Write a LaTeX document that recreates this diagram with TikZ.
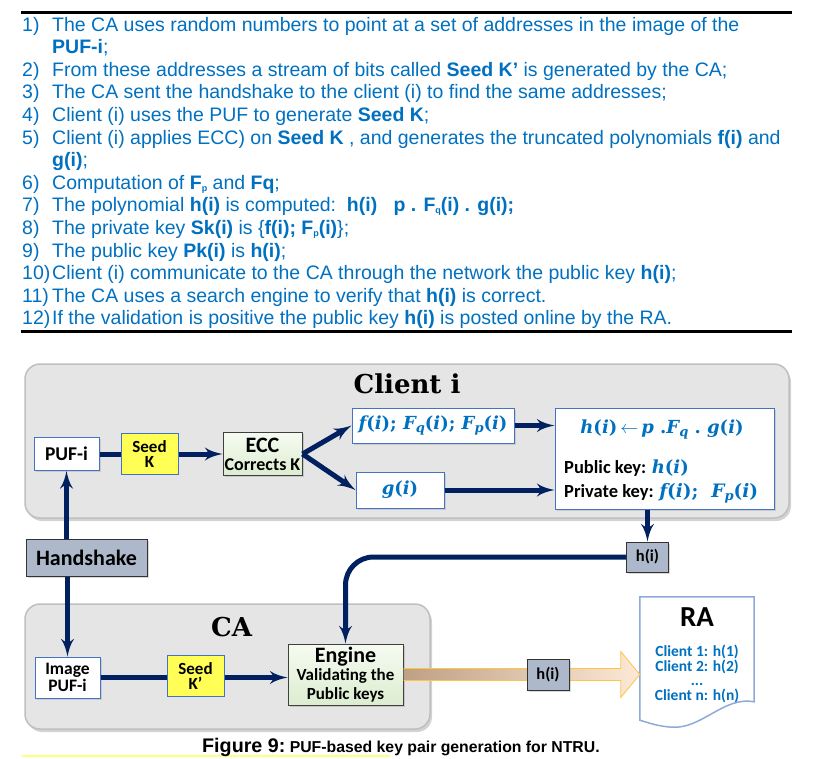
\RequirePackage{fix-cm}
\documentclass[tikz,border=0pt]{standalone}
\usepackage{fontspec}
\usepackage{amsmath}
\usepackage{tikz}
\usetikzlibrary{arrows}
\usetikzlibrary{calc}
\usetikzlibrary{shadows}

\newfontfamily\arialfont{Liberation Sans}
\newfontfamily\calibrifont{Carlito}
\newfontfamily\cambriafont{DejaVu Serif}

\definecolor{listblue}{RGB}{0,112,192}
\definecolor{navy}{RGB}{0,32,96}
\definecolor{boxblue}{RGB}{68,114,196}
\definecolor{panelgray}{RGB}{229,229,229}
\definecolor{tagfill}{RGB}{173,185,202}
\definecolor{seedyellow}{RGB}{255,255,85}
\definecolor{ecctop}{RGB}{246,251,241}
\definecolor{eccbottom}{RGB}{220,237,208}
\definecolor{arrowtan}{RGB}{190,160,132}
\definecolor{arrowpeach}{RGB}{253,233,214}
\definecolor{arrowgold}{RGB}{255,196,70}
\definecolor{docblue}{RGB}{142,170,219}
\definecolor{markyellow}{RGB}{255,255,128}

% bold italic variables, as in the equations of the figure
\newcommand{\polyvar}[1]{{\itshape #1}}
\newcommand{\polysub}[1]{\raisebox{-3.5pt}{\fontsize{13}{13}\selectfont\itshape #1}}

\begin{document}
\begin{tikzpicture}[
    x=1pt,y=-1pt,
    >=latex',
    list item/.style={anchor=base west,inner sep=0,text=listblue,font=\arialfont\fontsize{19.5}{22}\selectfont},
    panel/.style={draw=black!25,fill=panelgray,line width=1.5pt,rounded corners=15pt,drop shadow={opacity=.35,shadow xshift=2pt,shadow yshift=-3pt}},
    panel title/.style={anchor=base,inner sep=0,font=\cambriafont\bfseries\fontsize{26}{26}\selectfont},
    white box/.style={draw=boxblue,fill=white,line width=1pt,inner sep=0,align=center,drop shadow={opacity=.25,shadow xshift=1.5pt,shadow yshift=-1.5pt}},
    seed box/.style={draw=boxblue,fill=seedyellow,line width=1pt,inner sep=0,align=center,font=\calibrifont\bfseries\fontsize{17}{15.5}\selectfont},
    ecc box/.style={draw=black!75,top color=ecctop,bottom color=eccbottom,line width=1pt,inner sep=0,align=center,drop shadow={opacity=.3,shadow xshift=1.5pt,shadow yshift=-1.5pt}},
    tag box/.style={draw=black!80,fill=tagfill,line width=1pt,inner sep=0,font=\calibrifont\bfseries\fontsize{16.5}{16.5}\selectfont,drop shadow={opacity=.3,shadow xshift=1.5pt,shadow yshift=-1.5pt}},
    key text/.style={anchor=base west,inner sep=0,font=\calibrifont\bfseries\fontsize{18.5}{18.5}\selectfont},
    poly text/.style={text=listblue,font=\cambriafont\bfseries\fontsize{18}{18}\selectfont},
    key link/.style={line width=5pt,navy}
    ]
    \useasboundingbox (0,0) rectangle (822,758);
    % rules
    \draw[line width=3pt] (21,12) -- (792,12);
    \draw[line width=3pt] (21,331) -- (792,331);
    % steps
    \foreach \n/\t [count=\i from 0] in {
        {1)}/{The CA uses random numbers to point at a set of addresses in the image of the},
        {}/{\textbf{PUF-i};},
        {2)}/{From these addresses a stream of bits called \textbf{Seed K’} is generated by the CA;},
        {3)}/{The CA sent the handshake to the client (i) to find the same addresses;},
        {4)}/{Client (i) uses the PUF to generate \textbf{Seed K};},
        {5)}/{Client (i) applies ECC) on \textbf{Seed K} , and generates the truncated polynomials \textbf{f(i)} and},
        {}/{\textbf{g(i)};},
        {6)}/{Computation of \textbf{F{\fontsize{9}{9}\selectfont\raisebox{-2pt}{p}}} and \textbf{Fq};},
        {7)}/{The polynomial \textbf{h(i)} is computed:\ \ \textbf{h(i)\ \ \ p . F{\fontsize{9}{9}\selectfont\raisebox{-2pt}{q}}(i) . g(i);}},
        {8)}/{The private key \textbf{Sk(i)} is \{\textbf{f(i); F{\fontsize{9}{9}\selectfont\raisebox{-2pt}{p}}(i)}\};},
        {9)}/{The public key \textbf{Pk(i)} is \textbf{h(i)};},
        {10)}/{Client (i) communicate to the CA through the network the public key \textbf{h(i)};},
        {11)}/{The CA uses a search engine to verify that \textbf{h(i)} is correct.},
        {12)}/{If the validation is positive the public key \textbf{h(i)} is posted online by the RA.}} {
        \node[list item] (num\i) at (22,{31+22.6*\i}) {\n};
        \node[list item] (step\i) at (52,{31+22.6*\i}) {\t};
    }
    % panels
    \node[panel,minimum width=764,minimum height=154] (client) at (407,441) {};
    \node[panel title] (clienttitle) at (407,393) {Client i};
    \node[panel,minimum width=405,minimum height=125] (ca) at (227.5,666.5) {};
    \node[panel title] (catitle) at (231.5,636) {CA};
    % client i
    \node[white box,minimum width=65,minimum height=33,font=\calibrifont\bfseries\fontsize{19.5}{19.5}\selectfont] (pufi) at (66.5,454) {PUF-i};
    \node[seed box,minimum width=57,minimum height=41] (seedk) at (149.5,454) {Seed\\K};
    \node[ecc box,minimum width=79,minimum height=43,font=\calibrifont\bfseries\fontsize{18}{18}\selectfont] (ecc) at (262.5,454) {{\fontsize{22}{22}\selectfont ECC}\\Corrects K};
    \node[white box,poly text,minimum width=162,minimum height=35] (polyf) at (433,425.5) {\polyvar{f}(\polyvar{i});\ \polyvar{F}\polysub{q}(\polyvar{i});\ \polyvar{F}\polysub{p}(\polyvar{i})};
    \node[white box,poly text,minimum width=88,minimum height=36] (polyg) at (400,490) {\polyvar{g}(\polyvar{i})};
    \node[white box,minimum width=219,minimum height=101] (hbox) at (664.5,458.5) {};
    \node[poly text,anchor=base,inner sep=0] (hformula) at (662,433) {\polyvar{h}(\polyvar{i})\,$\leftarrow$\,\polyvar{p}\ .\polyvar{F}\polysub{q}\ .\ \polyvar{g}(\polyvar{i})};
    \node[key text] (pubkey) at (564,473) {Public key: {\color{listblue}\cambriafont\fontsize{18}{18}\selectfont\polyvar{h}(\polyvar{i})}};
    \node[key text] (privkey) at (564,497) {Private key: {\color{listblue}\cambriafont\fontsize{18.5}{18.5}\selectfont\polyvar{f}(\polyvar{i});\ \ \polyvar{F}\polysub{p}(\polyvar{i})}};
    \node[tag box,minimum width=42,minimum height=30] (hkey) at (647.5,557) {h(i)};
    % handshake
    \node[tag box,minimum width=121,minimum height=37,font=\calibrifont\bfseries\fontsize{22}{22}\selectfont] (handshake) at (86.5,557.5) {Handshake};
    % ca
    \node[white box,minimum width=65,minimum height=41,font=\calibrifont\bfseries\fontsize{17.5}{16.7}\selectfont] (imgpuf) at (67.5,677.5) {Image\\PUF-i};
    \node[seed box,minimum width=57,minimum height=41] (seedkk) at (195.5,676) {Seed\\K’};
    \node[ecc box,minimum width=115,minimum height=61,font=\calibrifont\bfseries\fontsize{17}{18.5}\selectfont] (engine) at (345.5,674.5) {{\fontsize{22}{22}\selectfont Engine}\\Validating the\\Public keys};
    % ra
    \node[minimum width=114,minimum height=123,inner sep=0] (ra) at (697,658.5) {};
    \draw[docblue,fill=white,line width=1.5pt] (ra.north west) -- (ra.north east) -- ($(ra.north east)+(0,105)$)
        .. controls +(-30,-6) and +(30,2) .. ($(ra.south west)+(32,7)$)
        .. controls +(-14,-1) and +(10,3) .. (ra.south west) -- cycle;
    \node[inner sep=0,font=\calibrifont\bfseries\fontsize{29}{29}\selectfont] (ratitle) at (697,617) {RA};
    \node[inner sep=0,align=center,text=listblue,font=\calibrifont\bfseries\fontsize{15.5}{14.4}\selectfont] (ralist) at (697,674) {Client 1: h(1)\\Client 2: h(2)\\...\\Client n: h(n)};
    % arcs
    \draw[key link] (pufi) -- (seedk);
    \draw[key link,->] (seedk) -- (ecc);
    \draw[key link,->] (ecc.east) -- (polyf.west);
    \draw[key link,->] (ecc.east) -- (polyg.west);
    \draw[key link,->] (polyf.east) -- (polyf.east -| hbox.west);
    \draw[key link,->] (polyg.east) -- (polyg.east -| hbox.west);
    \draw[key link,->] (hbox.south -| hkey) -- (hkey.north);
    \draw[key link,->,rounded corners=28pt] (hkey.west) -| (engine.north);
    \draw[key link,->] (handshake.north -| pufi) -- (pufi.south);
    \draw[key link,->] (handshake.south -| imgpuf) -- (imgpuf.north);
    \draw[key link] (imgpuf.east) -- (imgpuf.east -| seedkk.west);
    \draw[key link,->] (seedkk.east |- imgpuf.east) -- (engine.west |- imgpuf.east);
    % posting to ra
    \coordinate (raentry) at (ra.west |- engine.east);
    \path[left color=arrowtan,right color=arrowpeach] ($(engine.east)+(0,-6)$) -- ($(raentry)+(-19,-6)$) -- ($(raentry)+(-19,-23)$)
        -- (raentry) -- ($(raentry)+(-19,23)$) -- ($(raentry)+(-19,6)$) -- ($(engine.east)+(0,6)$) -- cycle;
    \draw[arrowgold,line width=.8pt] ($(engine.east)+(0,-6)$) -- ($(raentry)+(-19,-6)$) -- ($(raentry)+(-19,-23)$)
        -- (raentry) -- ($(raentry)+(-19,23)$) -- ($(raentry)+(-19,6)$) -- ($(engine.east)+(0,6)$);
    \node[tag box,minimum width=42,minimum height=31] (hmid) at (548,674.5) {h(i)};
    % caption
    \draw[markyellow,line width=2.5pt] (22,756) -- (390,756);
    \node[anchor=base west,inner sep=0,font=\arialfont\bfseries\fontsize{19.7}{20}\selectfont] (figlabel) at (202,752) {Figure 9:};
    \node[anchor=base west,inner sep=0,font=\arialfont\bfseries\fontsize{15.8}{16}\selectfont] (figtitle) at ($(figlabel.base east)+(4,0)$) {PUF-based key pair generation for NTRU.};
\end{tikzpicture}
\end{document}
